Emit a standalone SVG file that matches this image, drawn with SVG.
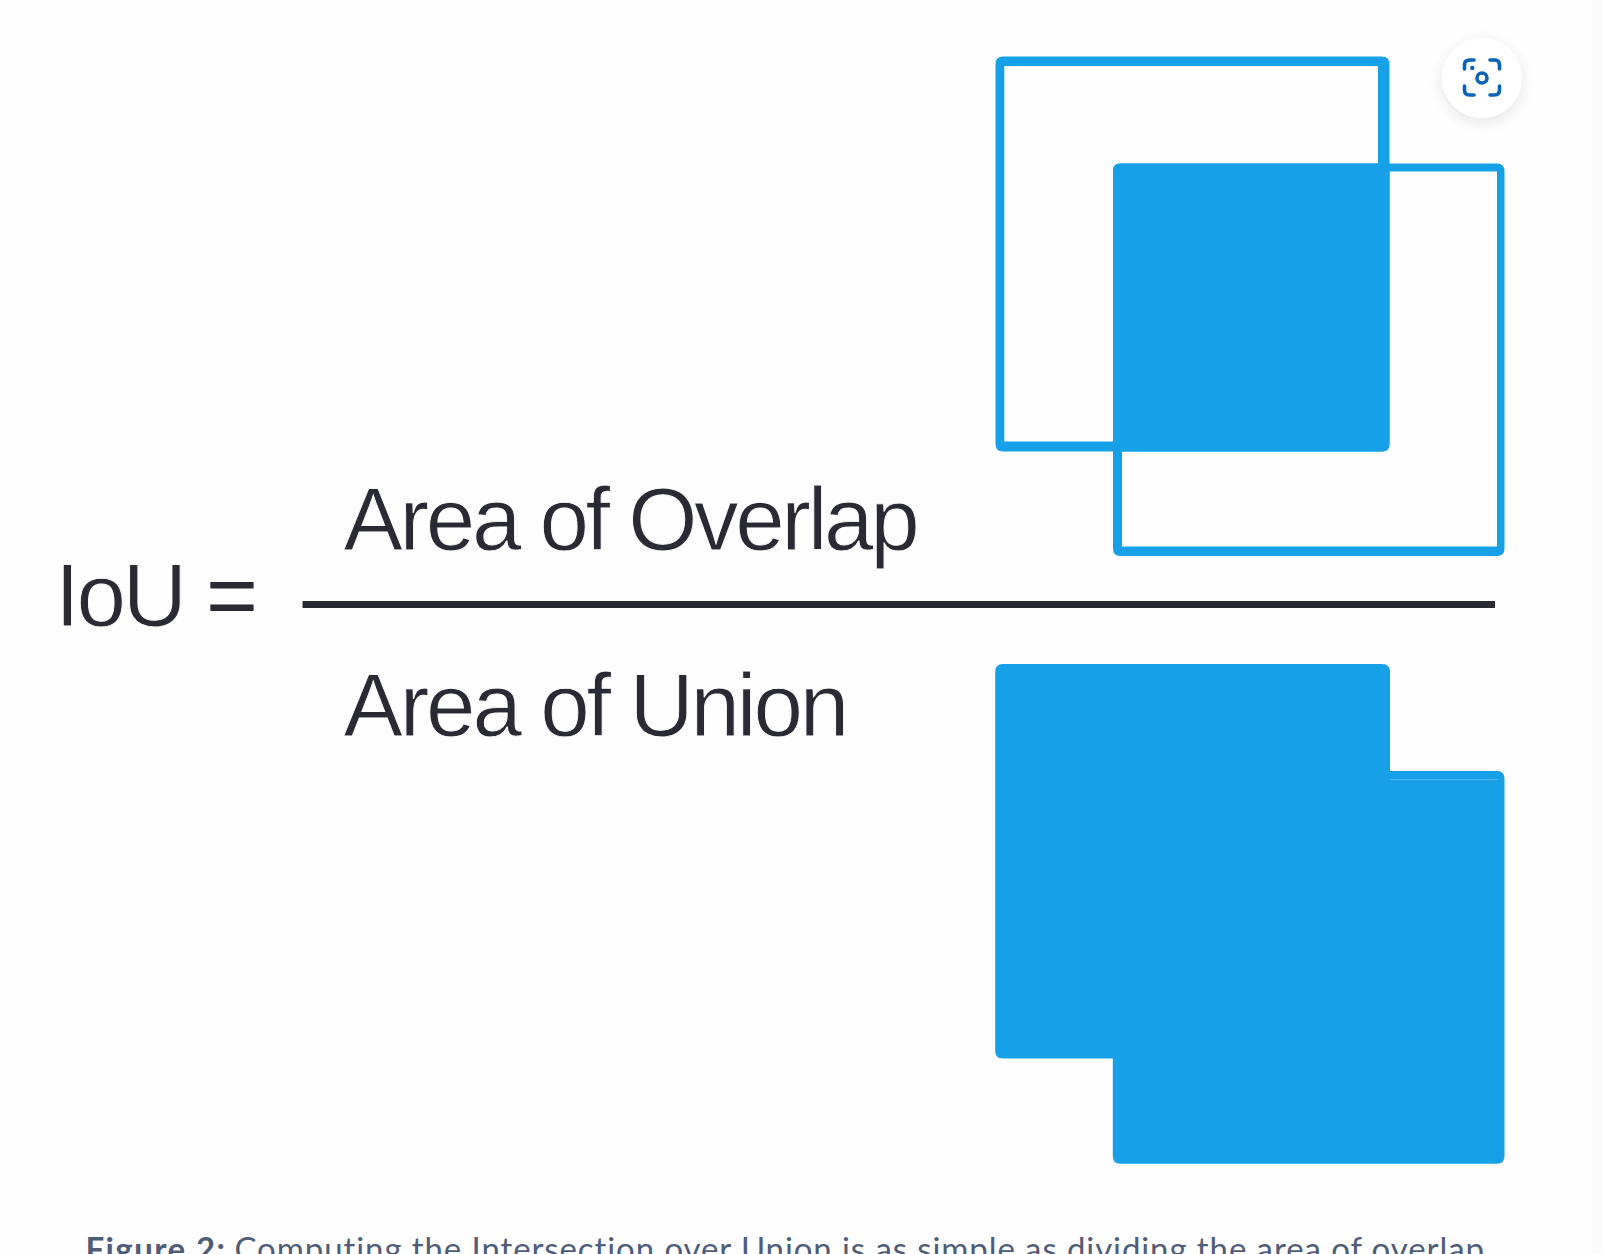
<svg xmlns="http://www.w3.org/2000/svg" width="1603" height="1254" viewBox="0 0 1603 1254">
  <defs>
    <filter id="soft" x="-50%" y="-50%" width="200%" height="200%">
      <feDropShadow dx="0" dy="4" stdDeviation="7" flood-color="#000000" flood-opacity="0.10"/>
    </filter>
    <filter id="blur" x="-2%" y="-2%" width="104%" height="104%">
      <feGaussianBlur stdDeviation="0.7"/>
    </filter>
  </defs>
  <style>
    .blue { fill: #18a0e8; }
    .eq { font-family: "Liberation Sans", Arial, sans-serif; font-size: 89px; fill: #2b2a35; stroke: #fefefe; stroke-width: 0.900; letter-spacing: -4.2px; }
    .cap { font-family: Lato, "Noto Sans", sans-serif; font-size: 33px; fill: #4f5d78; font-variant-ligatures: none; }
    .icon { fill: none; stroke: #0b63b8; stroke-width: 3.6; stroke-linecap: round; }
  </style>
  <rect width="1603" height="1254" fill="#fefefe"/>
  <rect x="1592" y="0" width="11" height="1254" fill="#fbfbfb"/>

  <g id="overlap-figure" filter="url(#blur)">
    <path class="blue" fill-rule="evenodd" d="M1003 56.500H1382Q1389.500 56.500 1389.500 64V444Q1389.500 451.500 1382 451.500H1003Q995.500 451.500 995.500 444V64Q995.500 56.500 1003 56.500ZM1004.300 66V441.400H1378V66Z"/>
    <path class="blue" fill-rule="evenodd" d="M1120 163.500H1497Q1504.500 163.500 1504.500 171V548.500Q1504.500 556 1497 556H1120Q1113 556 1113 548.500V171Q1113 163.500 1120 163.500ZM1122 171.400V546.500H1497V171.400Z"/>
    <path class="blue" d="M1120 163.500H1389.500V444Q1389.500 451.500 1382 451.500H1113V171Q1113 163.500 1120 163.500Z"/>
  </g>

  <g id="union-figure" filter="url(#blur)">
    <path class="blue" d="M1003 664H1382Q1390 664 1390 672V771H1497Q1504.500 771 1504.500 778.500V1156Q1504.500 1163.800 1497 1163.800H1120Q1112.800 1163.800 1112.800 1156V1058.600H1003Q995.200 1058.600 995.200 1051V672Q995.200 664 1003 664Z"/>
    <rect x="1390" y="779" width="108" height="1.200" fill="#4db6ee"/>
  </g>

  <g id="formula" filter="url(#blur)">
    <text class="eq" x="55" y="626" style="letter-spacing:-3.2px">IoU</text>
    <text class="eq" x="206" y="626" style="stroke:none">=</text>
    <rect x="302.500" y="601" width="1192.500" height="7" fill="#2b2a35"/>
    <text class="eq" x="343.500" y="550" textLength="572">Area of Overlap</text>
    <text class="eq" x="343.500" y="736" textLength="501.500">Area of Union</text>
  </g>

  <g id="zoom-button">
    <circle cx="1482" cy="78" r="40" fill="#ffffff" filter="url(#soft)"/>
    <path class="icon" d="M1464.500 69V65Q1464.500 60 1469.500 60H1474M1490 60H1494.500Q1499.500 60 1499.500 65V69M1499.500 86V90Q1499.500 95 1494.500 95H1490M1474 95H1469.500Q1464.500 95 1464.500 90V86"/>
    <circle cx="1482" cy="78" r="5" class="icon"/>
    <circle cx="1472.300" cy="68" r="2.200" fill="#0b63b8"/>
  </g>

  <g id="caption">
    <text class="cap" x="85.500" y="1261" font-weight="700" textLength="139.500">Figure 2:</text>
    <text class="cap" x="234.500" y="1261" font-weight="400" textLength="1249.500">Computing the Intersection over Union is as simple as dividing the area of overlap</text>
  </g>
</svg>
